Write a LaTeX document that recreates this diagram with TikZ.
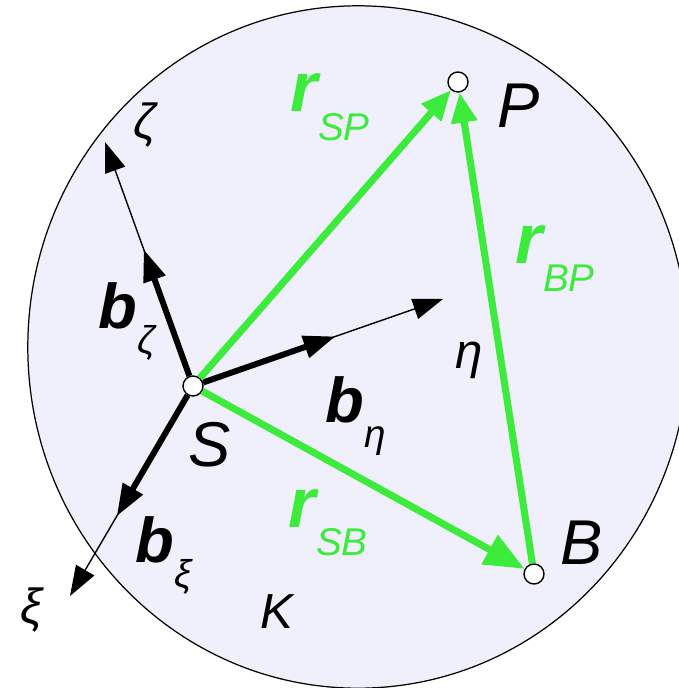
\documentclass[tikz,border=0pt]{standalone}
\usepackage{fontspec}
\setmainfont{Liberation Sans}
\usetikzlibrary{arrows.meta,calc}
\definecolor{vecgreen}{RGB}{60,235,60}
\definecolor{bodyfill}{RGB}{240,240,252}
\begin{document}
\begin{tikzpicture}[x=0.01cm,y=-0.01cm,
	pointdot/.style={circle,draw,line width=0.4pt,fill=white,minimum size=0.2cm,inner sep=0pt},
	greenvec/.style={vecgreen,line width=2pt,-{Triangle[length=0.3cm,width=0.25cm]}},
	axisline/.style={line width=0.4pt,-{Triangle[length=0.3cm,width=0.21cm]}},
	basevec/.style={line width=1.7pt,-{Triangle[length=0.32cm,width=0.22cm]}},
	letter/.style={inner sep=0pt,font=\fontsize{18}{20}\selectfont\itshape}]
	\newcommand{\bigsize}{\fontsize{20}{22}\selectfont}
	\newcommand{\bsize}{\fontsize{18}{20}\selectfont}
	\newcommand{\subsize}{\fontsize{11}{13}\selectfont}
	\newcommand{\rlab}[1]{{\bigsize\bfseries\itshape r}\raisebox{-0.28cm}{\subsize\itshape #1}}
	\newcommand{\blab}[1]{{\bsize\bfseries\itshape b}\raisebox{-0.25cm}{\subsize\itshape #1}}
	\useasboundingbox (0,0) rectangle (679,688);
	%body
	\draw [fill=bodyfill,line width=0.35pt] (358,347) ellipse [x radius=3.30cm,y radius=3.41cm];
	%points
	\node [pointdot] (S) at (193,386) {};
	\node [pointdot] (P) at (458,82) {};
	\node [pointdot] (B) at (534,574) {};
	\coordinate (zetaend) at (105,142);
	\coordinate (etaend) at (443,299);
	\coordinate (xiend) at (70,596);
	%axes
	\draw [axisline] (S) -- (zetaend);
	\draw [axisline] (S) -- (etaend);
	\draw [axisline] (S) -- (xiend);
	\draw [basevec] (S) -- ($(S)!0.56!(zetaend)$);
	\draw [basevec] (S) -- ($(S)!0.57!(etaend)$);
	\draw [basevec] (S) -- ($(S)!0.62!(xiend)$);
	%position vectors
	\draw [greenvec] (S) -- (P);
	\draw [greenvec] (B) -- (P);
	\draw [greenvec,-{Triangle[length=0.4cm,width=0.32cm]}] (S) -- (B);
	%labels
	\node [letter,font=\fontsize{14}{16}\selectfont\itshape] (zetalab) at (145,125) {ζ};
	\node [letter,font=\fontsize{14}{16}\selectfont\itshape] (etalab) at (469,360) {η};
	\node [letter,font=\fontsize{14}{16}\selectfont\itshape] (xilab) at (31,610) {ξ};
	\node [letter] (Slab) at (210,445) {S};
	\node [letter] (Plab) at (519,106) {P};
	\node [letter] (Blab) at (582,543) {B};
	\node [letter,font=\fontsize{14}{16}\selectfont\itshape] (Klab) at (277,612) {K};
	\node [inner sep=0pt,anchor=base west,vecgreen] (rsp) at (290,112) {\rlab{SP}};
	\node [inner sep=0pt,anchor=base west,vecgreen] (rbp) at (515,263) {\rlab{BP}};
	\node [inner sep=0pt,anchor=base west,vecgreen] (rsb) at (288,527) {\rlab{SB}};
	\node [inner sep=0pt,anchor=base west] (bzeta) at (98,328) {\blab{ζ}};
	\node [inner sep=0pt,anchor=base west] (beta) at (325,422) {\blab{η}};
	\node [inner sep=0pt,anchor=base west] (bxi) at (135,562) {\blab{ξ}};
\end{tikzpicture}
\end{document}
